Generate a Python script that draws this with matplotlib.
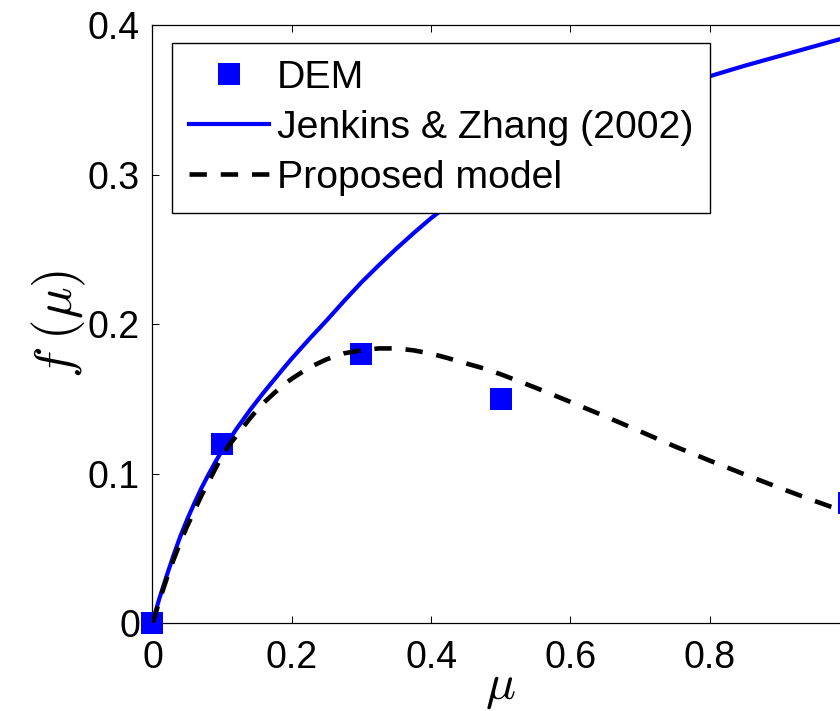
import matplotlib
matplotlib.use("Agg")
import matplotlib.pyplot as plt
from matplotlib.ticker import FixedLocator, FixedFormatter

# DEM measurements
dem_mu = [0.0, 0.1, 0.3, 0.5, 1.0]
dem_f = [0.0, 0.12, 0.18, 0.15, 0.08]

# Jenkins & Zhang (2002) curve
jz_mu = [0.0, 0.005, 0.01, 0.02, 0.03, 0.04, 0.05, 0.06, 0.07, 0.08, 0.09,
         0.1, 0.11, 0.12, 0.13, 0.14, 0.15, 0.16, 0.175, 0.19, 0.2, 0.225,
         0.25, 0.275, 0.3, 0.325, 0.35, 0.375, 0.4, 0.45, 0.5, 0.55, 0.6,
         0.65, 0.7, 0.75, 0.8, 0.85, 0.9, 0.95, 1.0]
jz_f = [0.0, 0.0085, 0.0165, 0.031, 0.045, 0.058, 0.0695, 0.080, 0.090,
        0.099, 0.1075, 0.1155, 0.1225, 0.1295, 0.136, 0.1425, 0.1485, 0.1545,
        0.163, 0.1715, 0.177, 0.190, 0.2025, 0.2155, 0.228, 0.2395, 0.2505,
        0.261, 0.271, 0.289, 0.305, 0.3185, 0.3305, 0.341, 0.3505, 0.3585,
        0.366, 0.373, 0.3795, 0.386, 0.3925]

# Proposed model curve
pm_mu = [0.0, 0.005, 0.01, 0.02, 0.03, 0.04, 0.05, 0.06, 0.07, 0.08, 0.09,
         0.1, 0.11, 0.12, 0.13, 0.14, 0.15, 0.16, 0.175, 0.19, 0.2, 0.225,
         0.25, 0.275, 0.3, 0.325, 0.35, 0.375, 0.4, 0.425, 0.45, 0.475, 0.5,
         0.55, 0.6, 0.65, 0.7, 0.75, 0.8, 0.85, 0.9, 0.95, 1.0]
pm_f = [0.0, 0.007, 0.015, 0.029, 0.042, 0.054, 0.065, 0.075, 0.085, 0.094,
        0.103, 0.112, 0.119, 0.125, 0.131, 0.137, 0.1425, 0.1475, 0.154,
        0.160, 0.1635, 0.171, 0.1765, 0.1805, 0.1825, 0.1838, 0.1838, 0.1825,
        0.1803, 0.1772, 0.1738, 0.1705, 0.1665, 0.1575, 0.148, 0.1383,
        0.1283, 0.1182, 0.1087, 0.0995, 0.0905, 0.0818, 0.0735]

x_ticks = [0, 0.2, 0.4, 0.6, 0.8, 1.0]
x_labels = ["0", "0.2", "0.4", "0.6", "0.8", "1"]
y_ticks = [0, 0.1, 0.2, 0.3, 0.4]
y_labels = ["0", "0.1", "0.2", "0.3", "0.4"]

plt.rcParams["font.family"] = ["Liberation Sans", "DejaVu Sans"]
plt.rcParams["mathtext.fontset"] = "cm"

fig = plt.figure(figsize=(8.4, 7.11), dpi=100)
ax = fig.add_axes([0.1815, 0.1238, 0.8292, 0.8404])

ax.plot(dem_mu, dem_f, linestyle="none", marker="s", markersize=15.8,
        color=(0, 0, 1), markeredgewidth=0, clip_on=False, zorder=3,
        label="DEM")
ax.plot(jz_mu, jz_f, color=(0, 0, 1), linewidth=3.0, zorder=4,
        solid_joinstyle="round", label="Jenkins & Zhang (2002)")
ax.plot(pm_mu, pm_f, color="black", linewidth=3.3,
        linestyle=(0, (12.5 / 3.3, 10.0 / 3.3)), dash_capstyle="butt",
        zorder=5, label="Proposed model")

ax.set_xlim(0, 1)
ax.set_ylim(0, 0.4)
ax.xaxis.set_major_locator(FixedLocator(x_ticks))
ax.xaxis.set_major_formatter(FixedFormatter(x_labels))
ax.yaxis.set_major_locator(FixedLocator(y_ticks))
ax.yaxis.set_major_formatter(FixedFormatter(y_labels))
ax.tick_params(direction="in", length=5, width=0.75, labelsize=27,
               top=True, right=True, pad=9)
ax.tick_params(axis="x", pad=12)
for s in ax.spines.values():
    s.set_linewidth(0.9)

ax.set_xlabel(r"$\mu$", fontsize=36, labelpad=-8)
ax.set_ylabel(r"$f\;(\mu)$", fontsize=38, labelpad=0)

leg = ax.legend(loc="upper left", bbox_to_anchor=(0.0287, 0.971),
                bbox_transform=ax.transAxes, fontsize=28.3, frameon=True,
                fancybox=False, framealpha=1, edgecolor="black",
                handlelength=2.03, handletextpad=0.2, borderpad=0.43,
                labelspacing=0.36, borderaxespad=0, markerscale=1.0)
leg.get_frame().set_linewidth(1.0)

fig.savefig("out.png", dpi=100)
